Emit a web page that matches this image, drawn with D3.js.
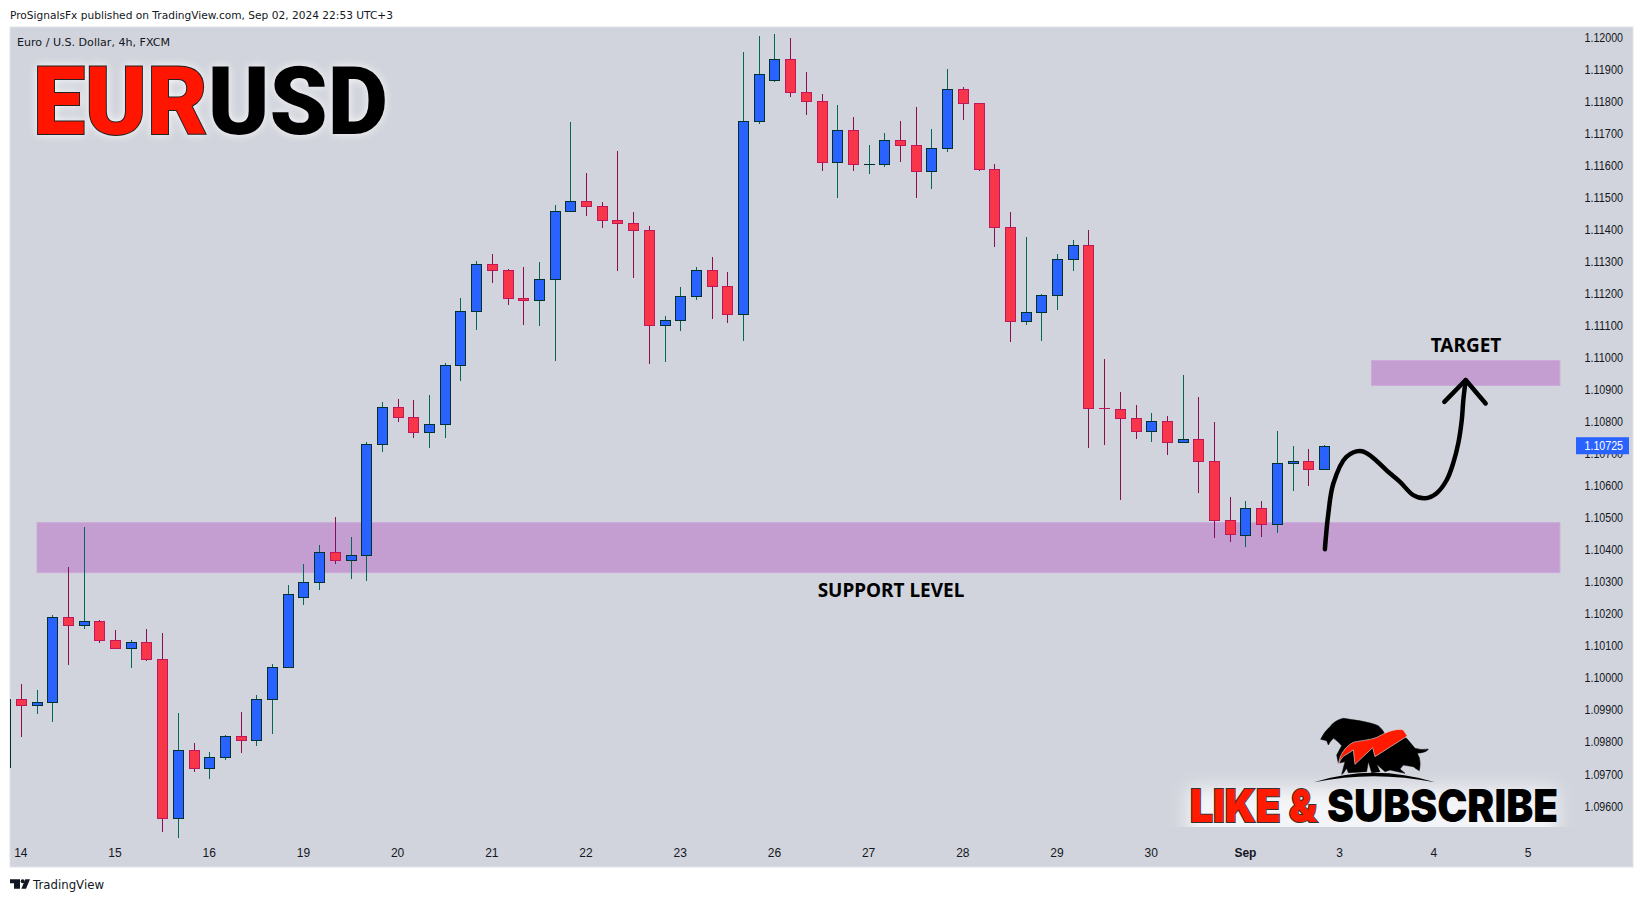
<!DOCTYPE html>
<html>
<head>
<meta charset="utf-8">
<style>
html, body { margin: 0; padding: 0; background: #fff; }
svg { display: block; }
text { font-family: "DejaVu Sans", sans-serif; }
.tick text { font-family: "Liberation Sans", sans-serif; font-size: 12px; fill: #131722; }
</style>
<script src="https://cdn.jsdelivr.net/npm/d3@7/dist/d3.min.js"></script>
</head>
<body>
<svg id="chart" width="1643" height="901"></svg>
<script>
// candles, first one is cut off by the left edge of the pane
var firstBar = -1;
var opens = [
    1.09722, 1.09935, 1.09917, 1.09926, 1.10191, 1.10166, 1.10179, 1.10120, 1.10095, 1.10113,
    1.10060, 1.09564, 1.09776, 1.09720, 1.09754, 1.09820, 1.09807, 1.09935, 1.10035, 1.10254,
    1.10301, 1.10394, 1.10369, 1.10385, 1.10731, 1.10847, 1.10815, 1.10769, 1.10794, 1.10978,
    1.11146, 1.11293, 1.11274, 1.11187, 1.11181, 1.11246, 1.11459, 1.11490, 1.11474, 1.11430,
    1.11421, 1.11399, 1.11103, 1.11118, 1.11193, 1.11275, 1.11225, 1.11137, 1.11737, 1.11865,
    1.11933, 1.11830, 1.11802, 1.11609, 1.11709, 1.11605, 1.11605, 1.11680, 1.11665, 1.11581,
    1.11655, 1.11837, 1.11796, 1.11590, 1.11409, 1.11115, 1.11143, 1.11194, 1.11309, 1.11350,
    1.10844, 1.10841, 1.10813, 1.10772, 1.10803, 1.10738, 1.10747, 1.10678, 1.10494, 1.10447,
    1.10532, 1.10482, 1.10672, 1.10678, 1.10653
];
var highs = [
    1.09960, 1.09982, 1.09963, 1.10198, 1.10347, 1.10472, 1.10182, 1.10151, 1.10120, 1.10154,
    1.10141, 1.09892, 1.09798, 1.09770, 1.09823, 1.09895, 1.09948, 1.10045, 1.10291, 1.10357,
    1.10416, 1.10504, 1.10441, 1.10738, 1.10862, 1.10872, 1.10868, 1.10884, 1.10984, 1.11187,
    1.11302, 1.11324, 1.11277, 1.11284, 1.11299, 1.11477, 1.11736, 1.11577, 1.11487, 1.11646,
    1.11455, 1.11412, 1.11131, 1.11221, 1.11284, 1.11315, 1.11268, 1.11955, 1.12005, 1.12011,
    1.11999, 1.11890, 1.11824, 1.11787, 1.11752, 1.11665, 1.11702, 1.11737, 1.11783, 1.11715,
    1.11902, 1.11846, 1.11796, 1.11605, 1.11453, 1.11375, 1.11197, 1.11322, 1.11368, 1.11397,
    1.10997, 1.10894, 1.10853, 1.10828, 1.10819, 1.10947, 1.10878, 1.10800, 1.10566, 1.10554,
    1.10554, 1.10772, 1.10725, 1.10716, 1.10727
];
var lows = [
    1.09700, 1.09816, 1.09887, 1.09862, 1.10040, 1.10154, 1.10109, 1.10090, 1.10031, 1.10053,
    1.09519, 1.09500, 1.09706, 1.09685, 1.09745, 1.09766, 1.09788, 1.09825, 1.10035, 1.10228,
    1.10275, 1.10357, 1.10309, 1.10303, 1.10705, 1.10799, 1.10749, 1.10718, 1.10749, 1.10927,
    1.11086, 1.11233, 1.11164, 1.11102, 1.11098, 1.10989, 1.11454, 1.11442, 1.11404, 1.11270,
    1.11248, 1.10980, 1.10986, 1.11083, 1.11181, 1.11122, 1.11109, 1.11053, 1.11730, 1.11860,
    1.11814, 1.11757, 1.11583, 1.11498, 1.11583, 1.11573, 1.11595, 1.11611, 1.11498, 1.11526,
    1.11642, 1.11742, 1.11583, 1.11345, 1.11049, 1.11102, 1.11052, 1.11149, 1.11271, 1.10718,
    1.10727, 1.10556, 1.10746, 1.10737, 1.10696, 1.10734, 1.10577, 1.10437, 1.10425, 1.10409,
    1.10440, 1.10453, 1.10584, 1.10599, 1.10653
];
var closes = [
    1.09935, 1.09917, 1.09926, 1.10191, 1.10166, 1.10179, 1.10120, 1.10095, 1.10113, 1.10060,
    1.09564, 1.09776, 1.09720, 1.09754, 1.09820, 1.09807, 1.09935, 1.10035, 1.10263, 1.10301,
    1.10394, 1.10369, 1.10385, 1.10731, 1.10847, 1.10815, 1.10769, 1.10794, 1.10978, 1.11146,
    1.11293, 1.11274, 1.11187, 1.11181, 1.11246, 1.11459, 1.11490, 1.11474, 1.11430, 1.11421,
    1.11399, 1.11103, 1.11118, 1.11193, 1.11275, 1.11225, 1.11137, 1.11737, 1.11886, 1.11933,
    1.11830, 1.11802, 1.11609, 1.11709, 1.11605, 1.11605, 1.11680, 1.11665, 1.11581, 1.11655,
    1.11837, 1.11796, 1.11590, 1.11409, 1.11115, 1.11143, 1.11194, 1.11309, 1.11350, 1.10844,
    1.10843, 1.10813, 1.10772, 1.10803, 1.10738, 1.10747, 1.10678, 1.10494, 1.10451, 1.10532,
    1.10482, 1.10672, 1.10678, 1.10653, 1.10725
];

var priceTicks = d3.range(0, 25).map(function(k) { return 1.096 + k * 0.001; });
var dayLabels = ["14", "15", "16", "19", "20", "21", "22", "23", "26", "27", "28", "29", "30", "Sep", "3", "4", "5"];
var barsPerDay = 6;
var lastPrice = 1.10725;

// drawings: start bar, end bar, top price, bottom price
var zoneSupport = [1, 98, 1.10485, 1.10329];
var zoneTarget = [86, 98, 1.10991, 1.10913];

var pathBars = [83.03, 83.25, 83.57, 84.4, 85.4, 87.17, 87.8, 88.66, 89.41, 90.15, 90.79, 91.2, 91.53, 91.75, 91.85, 92];
var pathPrices = [1.10402, 1.10513, 1.10607, 1.10690, 1.10708, 1.10639, 1.10613, 1.10571, 1.10561, 1.10577, 1.10618, 1.10670, 1.10733, 1.10805, 1.10868, 1.10930];
var headBars = [90.64, 92, 93.27];
var headPrices = [1.10862, 1.10930, 1.10857];

var pane = {left: 10, top: 27, right: 1633, bottom: 867};

var svg = d3.select("#chart");

var x = d3.scaleLinear().domain([0, 96]).range([21.3, 1528.5]);
var y = d3.scaleLinear().domain([1.12, 1.096]).range([37.2, 806.2]);

var defs = svg.append("defs");
defs.append("clipPath").attr("id", "paneClip")
    .append("rect")
    .attr("x", pane.left)
    .attr("y", pane.top)
    .attr("width", pane.right - pane.left)
    .attr("height", pane.bottom - pane.top);
defs.append("clipPath").attr("id", "logoClip")
    .append("rect")
    .attr("x", 1150).attr("y", 750)
    .attr("width", 440).attr("height", 77);
defs.append("filter").attr("id", "logoBlur")
    .attr("x", "-20%").attr("y", "-60%").attr("width", "140%").attr("height", "220%")
    .append("feGaussianBlur").attr("stdDeviation", 9);

// pane
svg.append("rect")
    .attr("x", pane.left)
    .attr("y", pane.top)
    .attr("width", pane.right - pane.left)
    .attr("height", pane.bottom - pane.top)
    .attr("fill", "#d1d4dc")
    .attr("stroke", "#e0e3eb");

svg.append("text")
    .attr("x", 10).attr("y", 19)
    .attr("textLength", 383)
    .attr("lengthAdjust", "spacingAndGlyphs")
    .style("font-size", "11px")
    .attr("fill", "#131722")
    .text("ProSignalsFx published on TradingView.com, Sep 02, 2024 22:53 UTC+3");

svg.append("text")
    .attr("x", 17).attr("y", 46)
    .attr("textLength", 153)
    .attr("lengthAdjust", "spacingAndGlyphs")
    .style("font-size", "11px")
    .attr("fill", "#131722")
    .text("Euro / U.S. Dollar, 4h, FXCM");

// axes
var yAxis = d3.axisRight(y)
    .tickValues(priceTicks)
    .tickSize(0)
    .tickFormat(d3.format(".5f"));
var gy = svg.append("g").attr("transform", "translate(1623,0)").call(yAxis);
gy.select(".domain").remove();
gy.selectAll("text")
    .attr("x", 0)
    .attr("y", 0)
    .attr("text-anchor", "end")
    .attr("textLength", 38.5)
    .attr("lengthAdjust", "spacingAndGlyphs");

var xAxis = d3.axisBottom(x)
    .tickValues(dayLabels.map(function(d, i) { return i * barsPerDay; }))
    .tickSize(0)
    .tickFormat(function(d, i) { return dayLabels[i]; });
var gx = svg.append("g").attr("transform", "translate(-1,844)").call(xAxis);
gx.select(".domain").remove();
gx.selectAll("text").attr("y", 4)
    .style("font-weight", function(d, i) { return dayLabels[i] === "Sep" ? "bold" : null; });

// zones
[zoneSupport, zoneTarget].forEach(function(z) {
    svg.append("rect")
        .attr("x", x(z[0]))
        .attr("y", y(z[2]))
        .attr("width", x(z[1]) - x(z[0]))
        .attr("height", y(z[3]) - y(z[2]))
        .attr("fill", "#c49dd1")
        .attr("stroke", "#ccaadb")
        .attr("stroke-width", 1);
});

// candles
var bars = d3.range(opens.length).map(function(i) {
    return {i: i + firstBar, o: opens[i], h: highs[i], l: lows[i], c: closes[i]};
});
var candles = svg.append("g").attr("clip-path", "url(#paneClip)")
    .selectAll("g")
    .data(bars)
    .enter().append("g")
    .attr("transform", function(d) { return "translate(" + (Math.floor(x(d.i)) + 0.5) + ",0)"; });

candles.append("line")
    .attr("y1", function(d) { return y(d.h); })
    .attr("y2", function(d) { return y(d.l); })
    .attr("stroke", function(d) { return d.c >= d.o ? "#00695c" : "#880e4f"; })
    .attr("shape-rendering", "crispEdges");

candles.append("rect")
    .attr("x", -5)
    .attr("width", 10)
    .attr("y", function(d) { return Math.round(y(Math.max(d.o, d.c))) + 0.5; })
    .attr("height", function(d) {
        // a zero height rect draws nothing, the doji still needs its dash
        return Math.max(0.01, Math.round(y(Math.min(d.o, d.c))) - Math.round(y(Math.max(d.o, d.c))));
    })
    .attr("fill", function(d) { return d.c >= d.o ? "#2962ff" : "#f7364a"; })
    .attr("stroke", function(d) { return d.c >= d.o ? "#00332f" : "#c2185b"; })
    .attr("stroke-width", 1);

// last price
var py = y(lastPrice);
svg.append("rect")
    .attr("x", 1576).attr("y", py - 8.5)
    .attr("width", 53).attr("height", 17)
    .attr("fill", "#2962ff");
svg.append("text")
    .attr("x", 1623).attr("y", py + 4.5)
    .attr("text-anchor", "end")
    .attr("textLength", 38.5)
    .attr("lengthAdjust", "spacingAndGlyphs")
    .style("font-family", '"Liberation Sans", sans-serif')
    .style("font-size", "12px")
    .attr("fill", "#fff")
    .text("1.10725");

// hand drawn arrow
var arrowLine = d3.line()
    .x(function(d) { return x(d[0]); })
    .y(function(d) { return y(d[1]); })
    .curve(d3.curveCatmullRom);
svg.append("path")
    .datum(d3.zip(pathBars, pathPrices))
    .attr("d", arrowLine)
    .attr("fill", "none")
    .attr("stroke", "#000")
    .attr("stroke-width", 4.5)
    .attr("stroke-linecap", "round");
svg.append("path")
    .datum(d3.zip(headBars, headPrices))
    .attr("d", arrowLine.curve(d3.curveLinear))
    .attr("fill", "none")
    .attr("stroke", "#000")
    .attr("stroke-width", 4.5)
    .attr("stroke-linecap", "round")
    .attr("stroke-linejoin", "round");

// labels
svg.append("text")
    .attr("x", 1466).attr("y", 352)
    .attr("text-anchor", "middle")
    .style("font-family", '"Noto Sans", sans-serif')
    .style("font-weight", "700")
    .style("font-size", "19px")
    .attr("fill", "#000")
    .text("TARGET");
svg.append("text")
    .attr("x", 891).attr("y", 597)
    .attr("text-anchor", "middle")
    .style("font-family", '"Noto Sans", sans-serif')
    .style("font-weight", "700")
    .style("font-size", "19px")
    .attr("fill", "#000")
    .text("SUPPORT LEVEL");

// big title
var title = svg.append("text")
    .attr("x", 33).attr("y", 134)
    .attr("textLength", 355)
    .attr("lengthAdjust", "spacingAndGlyphs")
    .style("font-family", "Roboto, sans-serif")
    .style("font-weight", "900")
    .style("font-size", "94px")
    .style("filter", "drop-shadow(0 0 5px rgba(255,255,255,0.9))");
title.append("tspan")
    .attr("fill", "#ff1500")
    .attr("stroke", "#222")
    .attr("stroke-width", 2)
    .style("paint-order", "stroke")
    .text("EUR");
title.append("tspan").attr("fill", "#000").text("USD");

// like & subscribe sticker
svg.append("g").attr("clip-path", "url(#logoClip)")
    .append("rect")
    .attr("x", 1188).attr("y", 788)
    .attr("width", 368).attr("height", 60)
    .attr("fill", "#f4f5f8")
    .attr("filter", "url(#logoBlur)");

var logo = svg.append("g").attr("transform", "translate(1300,705) scale(0.3333)");
logo.append("path")
    .attr("d", "M62,103 Q72,80 90,65 Q105,45 130,40 C160,45 200,48 235,62 Q250,75 255,88 L300,90 L320,100 L345,130 Q365,136 385,132 Q382,142 352,145 Q365,165 358,197 Q345,190 340,185 L310,180 L300,192 L315,205 L270,195 L255,200 L230,178 L240,200 L215,203 L205,170 L200,200 L145,203 L140,190 L130,205 L125,208 L135,170 L115,175 L110,150 L125,122 Q110,105 100,100 Q90,110 85,120 L80,107 Z")
    .attr("fill", "#000")
    .attr("stroke", "#000")
    .attr("stroke-linejoin", "round")
    .attr("stroke-width", 1.5);
logo.append("path")
    .attr("d", "M115,182 C118,150 135,125 160,112 C190,105 220,105 240,92 C265,78 290,70 310,75 L322,93 L225,155 L218,128 L165,178 L160,135 L140,148 C125,155 118,170 115,182 Z")
    .attr("fill", "#ff1a00")
    .attr("stroke", "#d8d8d8")
    .attr("stroke-width", 2);
logo.append("path")
    .attr("d", "M42,232 Q220,175 405,232 Q220,195 42,232 Z")
    .attr("fill", "#000");

svg.append("text")
    .attr("x", 1190).attr("y", 822)
    .attr("textLength", 127)
    .attr("lengthAdjust", "spacingAndGlyphs")
    .style("font-family", "Inter, sans-serif")
    .style("font-weight", "900")
    .style("font-size", "45px")
    .style("paint-order", "stroke")
    .attr("fill", "#ff1a00")
    .attr("stroke", "#333")
    .attr("stroke-width", 2)
    .text("LIKE &");
svg.append("text")
    .attr("x", 1327).attr("y", 822)
    .attr("textLength", 231)
    .attr("lengthAdjust", "spacingAndGlyphs")
    .style("font-family", "Inter, sans-serif")
    .style("font-weight", "900")
    .style("font-size", "45px")
    .attr("fill", "#000")
    .text("SUBSCRIBE");

// footer
var tv = svg.append("g").attr("transform", "translate(0,791) scale(0.3333)");
tv.append("path").attr("d", "M30,265 H60 V293 H42 V277 H30 Z").attr("fill", "#131722");
tv.append("circle").attr("cx", 68).attr("cy", 271).attr("r", 6).attr("fill", "#131722");
tv.append("path").attr("d", "M76,265 H90 L78,293 H64 Z").attr("fill", "#131722");
svg.append("text")
    .attr("x", 33).attr("y", 889)
    .attr("textLength", 71)
    .attr("lengthAdjust", "spacingAndGlyphs")
    .style("font-size", "12.5px")
    .attr("fill", "#131722")
    .text("TradingView");
</script>
</body>
</html>
